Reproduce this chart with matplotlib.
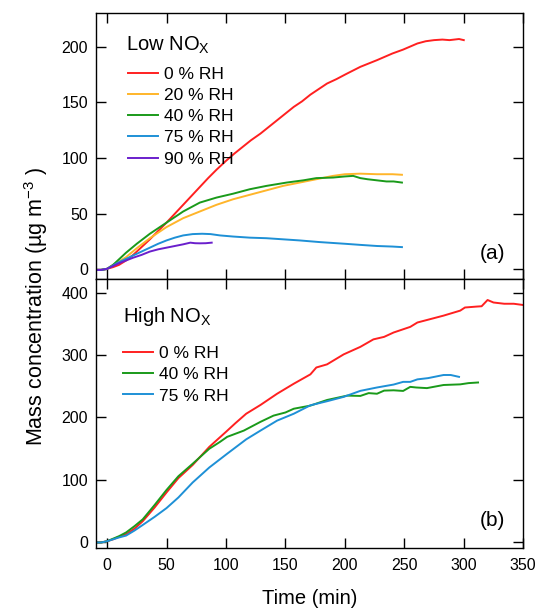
import numpy as np
import matplotlib
matplotlib.use("Agg")
from matplotlib import pyplot as plt

plt.rcParams['font.family'] = ['Liberation Sans', 'DejaVu Sans']
plt.rcParams['mathtext.fontset'] = 'custom'
plt.rcParams['mathtext.rm'] = 'Liberation Sans'
plt.rcParams['mathtext.it'] = 'Liberation Sans:italic'

# ---- Low NOx panel (a) ----
low_t_0 = [-10, -5, 0, 5, 10, 16, 22, 29, 36, 43, 50, 57, 64, 71, 78, 85, 92, 100, 107, 114, 121,
           129, 136, 143, 150, 157, 164, 171, 178, 185, 193, 201, 213, 227, 240, 249, 261, 268,
           275, 282, 288, 292, 296, 300]
low_y_0 = [-0.5, -0.5, 0.5, 2, 4, 8, 13, 20, 27, 34.5, 42, 50, 58, 66, 74, 82, 89.5, 97.5, 104,
           110, 116, 122, 128, 134, 140, 146, 151, 157, 162, 167, 171, 175.5, 182, 188, 194,
           197.5, 203, 205, 206, 206.5, 206, 206.5, 207, 206]
low_t_20 = [-10, -5, 0, 5, 10, 16, 25, 36, 50, 64, 78, 92, 106, 120, 134, 148, 162, 176, 190,
            200, 213, 227, 240, 248]
low_y_20 = [-0.5, -0.5, 0.5, 4, 7, 11, 19, 28, 38, 46, 52, 58, 63, 67, 71, 75, 78, 81, 84,
            85.5, 86, 85.5, 85.5, 85]
low_t_40 = [-10, -5, 0, 5, 10, 16, 25, 36, 50, 64, 78, 92, 106, 120, 134, 151, 165, 176, 190,
            200, 207, 213, 219, 227, 235, 241, 248]
low_y_40 = [-0.5, -0.5, 0.5, 4, 9, 15, 23, 32, 42, 52, 60, 64.5, 68, 72, 75, 78, 80, 82, 82.5,
            83.5, 84, 82, 81, 80, 79, 79, 78]
low_t_75 = [-10, -5, 0, 5, 10, 16, 22, 29, 36, 43, 50, 57, 64, 72, 80, 87, 95, 106, 120, 134,
            148, 162, 179, 200, 213, 227, 240, 248]
low_y_75 = [-0.5, -0.5, 0.5, 3.5, 6.5, 9.5, 12.5, 16, 19.5, 23, 26, 28.5, 30.5, 31.7, 32, 31.7,
            30.5, 29.5, 28.5, 28, 27, 26, 24.5, 23, 22, 21, 20.5, 20]
low_t_90 = [-10, -5, 0, 5, 10, 16, 22, 29, 36, 43, 50, 57, 64, 70, 74, 78, 83, 88]
low_y_90 = [-0.5, -0.5, 0.5, 3, 5.5, 8, 10.5, 13, 16, 18, 19.5, 21, 22.5, 24, 23.5, 23.4, 23.5, 24]

# ---- High NOx panel (b) ----
high_t_0 = [-10, -5, 0, 5, 10, 16, 23, 30, 40, 50, 60, 72, 86, 100, 108, 117, 129, 143, 157,
            171, 176, 185, 199, 213, 224, 233, 241, 255, 261, 269, 283, 297, 301, 311, 315,
            320, 325, 334, 342, 350]
high_y_0 = [0, 0, 2, 5, 9, 13, 22, 34, 56, 80, 103, 124, 153, 177, 191, 206, 220, 238, 254,
            269, 280, 285, 301, 313, 325, 329, 336, 345, 352, 356, 363, 371, 376, 377.5, 378,
            388, 384, 382, 382, 380]
high_t_40 = [-10, -5, 0, 5, 10, 16, 23, 30, 40, 50, 60, 72, 86, 95, 101, 115, 129, 140, 150,
             157, 171, 185, 202, 213, 220, 227, 233, 241, 249, 255, 260, 269, 283, 297, 304, 312]
high_y_40 = [0, 0, 2, 6, 10, 16, 26, 37, 60, 84, 106, 126, 150, 161, 169, 179, 193, 203, 208,
             214, 219, 228, 235, 234.5, 239, 238, 243, 243.5, 242.5, 249, 248, 247, 252, 253,
             255, 256]
high_t_75 = [-10, -5, 0, 5, 10, 16, 23, 30, 40, 50, 60, 72, 86, 101, 117, 129, 143, 157, 171,
             185, 199, 213, 227, 241, 249, 255, 261, 270, 283, 289, 296]
high_y_75 = [0, 0, 2, 5, 8, 11, 19, 28, 41, 55, 72, 96, 120, 142, 165, 179, 195, 206, 219.5,
             226, 233, 242.6, 248, 252.7, 257, 257, 261, 263, 268, 268, 265]

low_series = [(low_t_0, low_y_0, '0 % RH', '#ff2020'),
              (low_t_20, low_y_20, '20 % RH', '#ffb52a'),
              (low_t_40, low_y_40, '40 % RH', '#1a9a1a'),
              (low_t_75, low_y_75, '75 % RH', '#1e90d6'),
              (low_t_90, low_y_90, '90 % RH', '#6a1fcc')]
high_series = [(high_t_0, high_y_0, '0 % RH', '#ff2020'),
               (high_t_40, high_y_40, '40 % RH', '#1a9a1a'),
               (high_t_75, high_y_75, '75 % RH', '#1e90d6')]

x_ticks = [0, 50, 100, 150, 200, 250, 300, 350]

fig = plt.figure(figsize=(5.35, 6.10), dpi=100)
ax1 = fig.add_axes([0.179, 0.542, 0.799, 0.436])
ax2 = fig.add_axes([0.179, 0.102, 0.799, 0.440], sharex=ax1)

for ax in (ax1, ax2):
    ax.tick_params(direction='in', length=7.5, width=1, top=True, right=True,
                   labelsize=11.5, pad=5.5)
    ax.tick_params(axis='x', pad=7)
    for sp in ax.spines.values():
        sp.set_linewidth(1)

for t, y, lab, c in low_series:
    ax1.plot(t, y, color=c, lw=1.4, label=lab)
for t, y, lab, c in high_series:
    ax2.plot(t, y, color=c, lw=1.4, label=lab)

ax1.set_xlim(-9.5, 350)
ax1.set_xticks(x_ticks)
ax1.tick_params(labelbottom=False)
ax1.set_ylim(-9, 230)
ax1.set_yticks([0, 50, 100, 150, 200])
ax2.set_ylim(-8.5, 421)
ax2.set_yticks([0, 100, 200, 300, 400])

leg_kw = dict(loc='upper left', frameon=False, fontsize=12.5, handlelength=1.75,
              handletextpad=0.35, labelspacing=0.35, borderpad=0, borderaxespad=0)
ax1.legend(bbox_to_anchor=(0.075, 0.80), **leg_kw)
ax2.legend(bbox_to_anchor=(0.063, 0.752), **leg_kw)

ax1.text(0.07, 0.859, r'Low NO$_\mathrm{X}$', transform=ax1.transAxes, fontsize=14.5,
         va='baseline', ha='left')
ax2.text(0.064, 0.842, r'High NO$_\mathrm{X}$', transform=ax2.transAxes, fontsize=14.5,
         va='baseline', ha='left')
ax1.text(0.958, 0.099, '(a)', transform=ax1.transAxes, fontsize=15, ha='right', va='center')
ax2.text(0.958, 0.103, '(b)', transform=ax2.transAxes, fontsize=15, ha='right', va='center')

ax2.set_xlabel('Time (min)', fontsize=14.5, labelpad=12)
fig.text(0.067, 0.4975, r'Mass concentration (µg m$^{-3}$ )', rotation=90, fontsize=15.5,
         ha='center', va='center')

fig.savefig('out.png', dpi=100)
